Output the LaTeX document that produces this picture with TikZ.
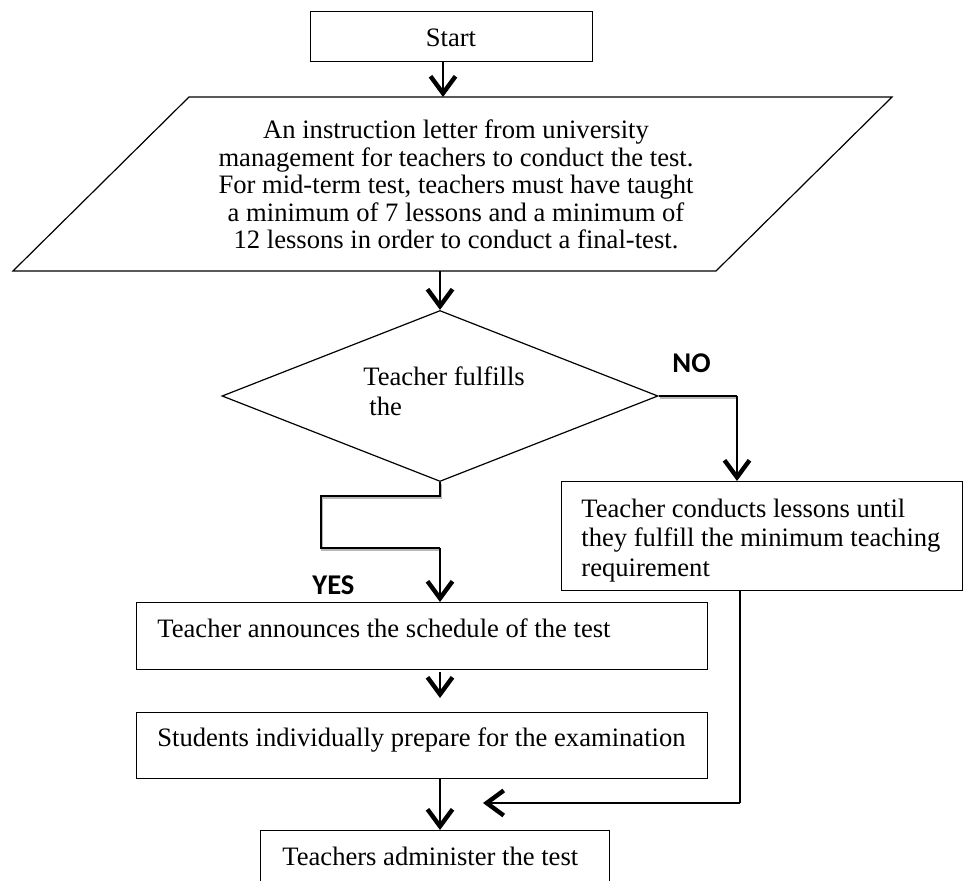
\documentclass[tikz,border=0pt]{standalone}
\usepackage{fontspec}
\setmainfont{Liberation Serif}
\newfontfamily\labelfont{Carlito}
\usetikzlibrary{arrows.meta,shapes.geometric,calc}

\begin{document}
\begin{tikzpicture}[x=0.5pt,y=-0.5pt,
  box/.style={draw, line width=0.6pt, inner sep=0pt, anchor=north west},
  txt/.style={font=\fontsize{13.3}{15}\selectfont, inner sep=0pt, anchor=base west},
  ctxt/.style={font=\fontsize{13.3}{15}\selectfont, inner sep=0pt, anchor=base},
  yn/.style={font=\labelfont\bfseries\fontsize{14.3}{16}\selectfont, inner sep=0pt, anchor=base west},
  flow/.style={line width=1pt, -{Straight Barb[length=8.5pt,width=12.5pt,line width=2.2pt]}},
  elbow/.style={line width=0.8pt, preaction={draw=black!28, line width=0.8pt, transform canvas={shift={(0.5pt,-0.9pt)}}}}
]
\useasboundingbox (0,0) rectangle (963,881);
\clip (0,0) rectangle (963,881);

% column of the main flow
\coordinate (colA) at (443,0);
\coordinate (col) at (440,0);

% start
\node[box, minimum width=141pt, minimum height=25pt] (start) at (310,11) {};
\node[ctxt] (startT) at (451,47) {Start};

% instruction letter (parallelogram)
\coordinate (pTL) at (189,97);
\coordinate (pTR) at (892,97);
\coordinate (pBR) at (716,271);
\coordinate (pBL) at (13,271);
\draw[line width=0.6pt] (pTL) -- (pTR) -- (pBR) -- (pBL) -- cycle;
\node[ctxt] (l1) at (456,139) {An instruction letter from university};
\node[ctxt] (l2) at (456,166.5) {management for teachers to conduct the test.};
\node[ctxt] (l3) at (456,194) {For mid-term test, teachers must have taught};
\node[ctxt] (l4) at (456,221.5) {a minimum of 7 lessons and a minimum of};
\node[ctxt] (l5) at (456,249) {12 lessons in order to conduct a final-test.};

% decision
\node[draw, diamond, line width=0.6pt, inner sep=0pt, aspect=2.55,
      minimum width=218pt, minimum height=85.5pt] (dec) at (440,396) {};
\node[txt] (decT1) at (363,386) {Teacher fulfills};
\node[txt] (decT2) at (369,416) {the};

% branch boxes
\node[box, minimum width=200.5pt, minimum height=54.5pt] (cond) at (561,481) {};
\node[txt] (c1) at (581,517) {Teacher conducts lessons until};
\node[txt] (c2) at (581,546.5) {they fulfill the minimum teaching};
\node[txt] (c3) at (581,576) {requirement};

\node[box, minimum width=285.5pt, minimum height=33.5pt] (ann) at (136,602) {};
\node[txt] (annT) at (157,637) {Teacher announces the schedule of the test};

\node[box, minimum width=285.5pt, minimum height=33pt] (prep) at (136,712) {};
\node[txt] (prepT) at (157,746) {Students individually prepare for the examination};

\node[box, minimum width=174.5pt, minimum height=40pt] (admin) at (260,830) {};
\node[txt] (adminT) at (282,865) {Teachers administer the test};

% labels
\node[yn] (no) at (672,373) {NO};
\node[yn] (yes) at (312,594) {YES};

% connectors
\draw[flow] (start.south -| colA) -- (pTL -| colA);
\draw[flow] (pBL -| col) -- (dec.north);

\coordinate (yesL) at (321,496);
\coordinate (yesR) at (440,548);
\draw[elbow] (dec.south) |- (yesL) |- (yesR);
\draw[flow] (yesR) -- (ann.north -| yesR);

\coordinate (noC) at (737,396);
\draw[elbow] (dec.east) -- (noC);
\draw[flow] (noC) -- (cond.north -| noC);

\draw[flow] ($(ann.south -| col)+(0,2)$) -- ($(prep.north -| col)+(0,-14)$);
\draw[flow] (prep.south -| col) -- (admin.north -| col);

\coordinate (retC) at (740,803);
\coordinate (retTip) at (483,803);
\draw[line width=0.8pt] (cond.south -| retC) -- (retC);
\draw[flow, line width=1.3pt] (retC) -- (retTip);
\end{tikzpicture}
\end{document}
